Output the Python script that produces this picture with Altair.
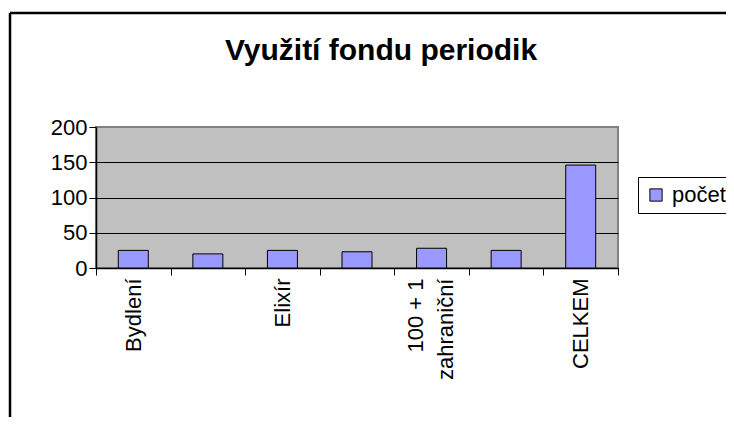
import altair as alt
import pandas as pd

categories = ["Bydlení", " ", "Elixír", "  ", "100 + 1 zahraniční", "   ", "CELKEM"]
values = [25, 20, 25, 23, 28, 25, 146]
series_name = "počet"
y_ticks = [0, 50, 100, 150, 200]
title_text = "Využití fondu periodik"

df = pd.DataFrame({"kategorie": categories, "pocet": values, "serie": [series_name] * len(categories)})

FONT = "Liberation Sans"

bars = alt.Chart(df).mark_bar(size=30, stroke="black", strokeWidth=1).encode(
    x=alt.X(
        "kategorie:N",
        sort=categories,
        scale=alt.Scale(paddingInner=0, paddingOuter=0),
        axis=alt.Axis(
            title=None,
            labelAngle=-90,
            labelFontSize=22,
            labelFont=FONT,
            labelColor="black",
            labelPadding=3,
            labelLineHeight=30,
            labelExpr="datum.label == '100 + 1 zahraniční' ? ['100 + 1', 'zahraniční'] : datum.label",
            labelOffset={"condition": {"test": "datum.label == '100 + 1 zahraniční'", "value": -16}, "value": 0},
            tickBand="extent",
            tickSize=7,
            tickColor="black",
            domainColor="black",
            domainWidth=1.5,
            labelOverlap=False,
            labelLimit=250,
        ),
    ),
    y=alt.Y(
        "pocet:Q",
        scale=alt.Scale(domain=[0, 200], nice=False),
        axis=alt.Axis(
            title=None,
            values=y_ticks,
            labelFontSize=22,
            labelFont=FONT,
            labelColor="black",
            labelPadding=2,
            tickSize=7,
            tickColor="black",
            domainColor="black",
            domainWidth=1.5,
            grid=True,
            gridColor={"condition": {"test": "datum.value == 200", "value": "#808080"}, "value": "black"},
            gridWidth=1.2,
        ),
    ),
    color=alt.Color(
        "serie:N",
        scale=alt.Scale(domain=[series_name], range=["#9999FF"]),
        legend=alt.Legend(
            title=None,
            orient="none",
            legendX=542,
            legendY=50,
            symbolType="square",
            symbolSize=150,
            symbolStrokeColor="black",
            symbolStrokeWidth=1,
            labelFontSize=22,
            labelFont=FONT,
            labelColor="black",
            strokeColor="black",
            fillColor="white",
            padding=7,
            labelOffset=5,
        ),
    ),
)

one_row = pd.DataFrame({"t": [title_text]})
title_mark = alt.Chart(one_row).mark_text(
    font=FONT, fontSize=30, fontWeight="bold", color="black", align="center", baseline="middle"
).encode(text="t:N", x=alt.value(285), y=alt.value(-76))

frame_top = alt.Chart(one_row).mark_rule(color="black", strokeWidth=2.5).encode(
    x=alt.value(-86), x2=alt.value(640), y=alt.value(-114), y2=alt.value(-114)
)
frame_left = alt.Chart(one_row).mark_rule(color="black", strokeWidth=2.5).encode(
    x=alt.value(-86), x2=alt.value(-86), y=alt.value(-114), y2=alt.value(300)
)

chart = alt.layer(bars, title_mark, frame_top, frame_left).properties(
    width=522,
    height=141,
    autosize="none",
    padding={"left": 88, "top": 119, "right": 108, "bottom": 149},
    background="white",
).configure_view(
    fill="#C0C0C0", stroke="#808080", strokeWidth=2
)

chart.save("out.html", embed_options={"renderer": "svg", "actions": False})
